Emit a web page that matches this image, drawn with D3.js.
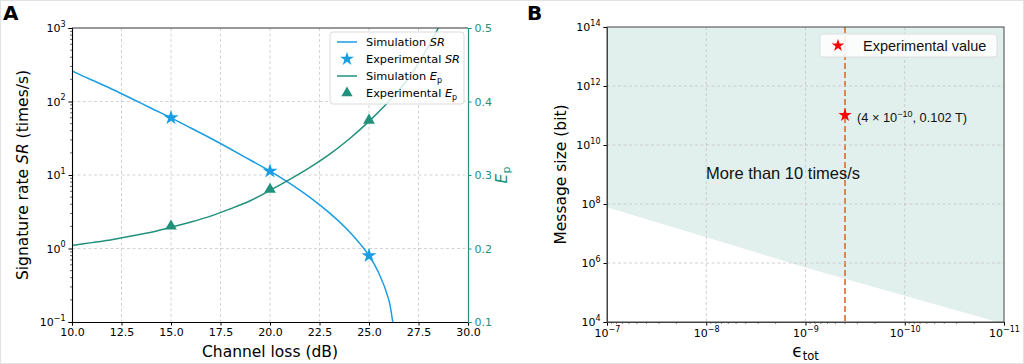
<!DOCTYPE html>
<html><head><meta charset="utf-8">
<script src="https://cdn.jsdelivr.net/npm/d3@7"></script>
<style>body{margin:0;background:#fff} svg{display:block}</style>
</head><body><svg id="c" width="1024" height="364"></svg>
<script>
// ---------- Panel A data ----------
const srLoss = [10, 11, 12, 13, 14, 15, 16, 17, 18, 19, 20, 21, 22, 23, 24, 25, 25.5, 26, 26.2, 26.3];
const srSim  = [260, 196, 148, 110, 81, 60, 43.6, 31.6, 22.6, 16.0, 11.3, 7.7, 5.0, 3.05, 1.7, 0.80, 0.46, 0.2, 0.1, 0.07];
const epLoss = [10, 11, 12, 13, 14, 15, 16, 17, 18, 19, 20, 21, 22, 23, 24, 25, 26, 26.5, 27, 27.5, 28, 28.5];
const epSim  = [0.204, 0.208, 0.212, 0.217, 0.222, 0.229, 0.236, 0.244, 0.254, 0.265, 0.279, 0.294, 0.31, 0.328, 0.349, 0.373, 0.40, 0.415, 0.432, 0.452, 0.475, 0.50];
const expLoss = [15, 20, 25];
const srExp = [60, 11.3, 0.8];
const epExp = [0.229, 0.279, 0.373];
const lossTicks = [10, 12.5, 15, 17.5, 20, 22.5, 25, 27.5, 30];
const srTicks = [-1, 0, 1, 2, 3];
const epTicks = [0.1, 0.2, 0.3, 0.4, 0.5];

// ---------- Panel B data ----------
const epsBoundary = [1e-7, 1e-8, 1e-9, 1e-10, 1e-11];
const msgBoundary = [7.76e7, 7.41e6, 7.08e5, 7.76e4, 8.7e3];
const epsExp = [4e-10];
const msgExp = [1.02e11];
const epsTicks = [-7, -8, -9, -10, -11];
const msgTicks = [4, 6, 8, 10, 12, 14];

const BLUE = "#1a9ee3", TEAL = "#21917c", SHADE = "#e1f0ed", ORANGE = "#e2703a";
const svg = d3.select("#c");
const FONT = "DejaVu Sans, sans-serif";
const TICK = 11;
svg.append("rect").attr("x",0.5).attr("y",0.5).attr("width",1023).attr("height",363).attr("fill","#fff").attr("stroke","#e2e2e2");

function sup(sel, expOf, size) {
  sel.each(function(d){
    const t = d3.select(this); t.text(null);
    t.append("tspan").text("10");
    t.append("tspan").attr("dy", -5.5).attr("font-size", size || 8).text(String(expOf(d)).replace("-", "\u2212"));
  });
}

// ================= Panel A =================
const A = {l: 72, r: 468, t: 28, b: 322};
const x = d3.scaleLinear().domain([10, 30]).range([A.l, A.r]);
const y = d3.scaleLog().domain([0.1, 1000]).range([A.b, A.t]);
const y2 = d3.scaleLinear().domain([0.1, 0.5]).range([A.b, A.t]);
const gA = svg.append("g");

const grid = gA.append("g").attr("stroke", "#c8c8c8").attr("stroke-width", 0.8).attr("stroke-dasharray", "3,2.5");
lossTicks.slice(1, -1).forEach(v => grid.append("line").attr("x1", x(v)).attr("x2", x(v)).attr("y1", A.t).attr("y2", A.b));
srTicks.slice(1, -1).forEach(v => grid.append("line").attr("x1", A.l).attr("x2", A.r).attr("y1", y(Math.pow(10, v))).attr("y2", y(Math.pow(10, v))));

svg.append("clipPath").attr("id", "clipA").append("rect").attr("x", A.l).attr("y", A.t).attr("width", A.r - A.l).attr("height", A.b - A.t);
const plotA = gA.append("g").attr("clip-path", "url(#clipA)");
const lineSR = d3.line().x((d, i) => x(srLoss[i])).y(d => y(d)).curve(d3.curveCatmullRom);
const lineEP = d3.line().x((d, i) => x(epLoss[i])).y(d => y2(d)).curve(d3.curveCatmullRom);
plotA.append("path").attr("d", lineSR(srSim)).attr("fill", "none").attr("stroke", BLUE).attr("stroke-width", 1.5);
plotA.append("path").attr("d", lineEP(epSim)).attr("fill", "none").attr("stroke", TEAL).attr("stroke-width", 1.5);
const star = d3.symbol().type(d3.symbolStar);
const tri = d3.symbol().type(d3.symbolTriangle);
plotA.selectAll(".sexp").data(srExp).join("path").attr("d", star.size(70)())
  .attr("transform", (d, i) => `translate(${x(expLoss[i])},${y(d)})`).attr("fill", BLUE);
plotA.selectAll(".eexp").data(epExp).join("path").attr("d", tri.size(60)())
  .attr("transform", (d, i) => `translate(${x(expLoss[i])},${y2(d) - 1})`).attr("fill", TEAL);

const axB = gA.append("g").attr("transform", `translate(0,${A.b})`)
  .call(d3.axisBottom(x).tickValues(lossTicks).tickFormat(d3.format(".1f")).tickSize(3.5).tickPadding(3));
const axL = gA.append("g").attr("transform", `translate(${A.l},0)`)
  .call(d3.axisLeft(y).tickValues(srTicks.map(v => Math.pow(10, v))).tickSize(3.5).tickPadding(3));
sup(axL.selectAll(".tick text"), d => Math.round(Math.log10(d)));
const minorL = [];
for (let k = -1; k < 3; k++) for (let m = 2; m <= 9; m++) minorL.push(m * Math.pow(10, k));
axL.selectAll(".minor").data(minorL).join("line").attr("x1", 0).attr("x2", -2).attr("y1", d => y(d)).attr("y2", d => y(d)).attr("stroke", "#000").attr("stroke-width", 0.6);
const axR = gA.append("g").attr("transform", `translate(${A.r},0)`)
  .call(d3.axisRight(y2).tickValues(epTicks).tickFormat(d3.format(".1f")).tickSize(3.5).tickPadding(3));
axR.select(".domain").attr("stroke", TEAL).attr("stroke-width", 1.2);
axR.selectAll(".tick line").attr("stroke", TEAL);
axR.selectAll(".tick text").attr("fill", TEAL);
[axB, axL, axR].forEach(a => a.attr("font-family", FONT).attr("font-size", TICK));
[axB, axL].forEach(a => a.select(".domain").attr("stroke-width", 1.1));
gA.append("line").attr("x1", A.l).attr("x2", A.r).attr("y1", A.t).attr("y2", A.t).attr("stroke", "#333").attr("stroke-width", 1.1);

gA.append("text").attr("x", (A.l + A.r) / 2).attr("y", 357).attr("text-anchor", "middle").attr("font-family", FONT).attr("font-size", 15.5).text("Channel loss (dB)");
const yl = gA.append("text").attr("transform", `translate(28,${(A.t + A.b) / 2}) rotate(-90)`).attr("text-anchor", "middle").attr("font-family", FONT).attr("font-size", 15.5);
yl.append("tspan").text("Signature rate ");
yl.append("tspan").attr("font-style", "italic").text("SR");
yl.append("tspan").text(" (times/s)");
const yr = gA.append("text").attr("transform", `translate(507,${(A.t + A.b) / 2}) rotate(-90)`).attr("text-anchor", "middle").attr("font-family", FONT).attr("font-size", 15.5).attr("fill", TEAL);
yr.append("tspan").attr("font-style", "italic").text("E");
yr.append("tspan").attr("dy", 3).attr("font-size", 11).text("p");

const lg = gA.append("g").attr("font-family", FONT).attr("font-size", 11.3);
lg.append("rect").attr("x", 330).attr("y", 32).attr("width", 134).attr("height", 72).attr("rx", 3).attr("fill", "#fff").attr("fill-opacity", 0.82).attr("stroke", "#d0d0d0").attr("stroke-width", 0.8);
const legItems = [
  {kind: "line", color: BLUE, pre: "Simulation ", it: "SR", sub: null},
  {kind: "star", color: BLUE, pre: "Experimental ", it: "SR", sub: null},
  {kind: "line", color: TEAL, pre: "Simulation ", it: "E", sub: "p"},
  {kind: "tri", color: TEAL, pre: "Experimental ", it: "E", sub: "p"}
];
const rowsY = [42, 59, 76, 93];
legItems.forEach((it, i) => {
  const cy = rowsY[i];
  if (it.kind === "line") lg.append("line").attr("x1", 337).attr("x2", 357).attr("y1", cy).attr("y2", cy).attr("stroke", it.color).attr("stroke-width", 1.5);
  else lg.append("path").attr("d", (it.kind === "star" ? star.size(60) : tri.size(55))()).attr("transform", `translate(347,${cy})`).attr("fill", it.color);
  const t = lg.append("text").attr("x", 366).attr("y", cy + 4);
  t.append("tspan").text(it.pre);
  t.append("tspan").attr("font-style", "italic").text(it.it);
  if (it.sub) t.append("tspan").attr("dy", 2.5).attr("font-size", 8).text(it.sub);
});

svg.append("text").attr("x", 3).attr("y", 20).attr("font-family", FONT).attr("font-weight", "bold").attr("font-size", 20).text("A");

// ================= Panel B =================
const B = {l: 607, r: 1004, t: 27, b: 322};
const xb = d3.scaleLog().domain([1e-7, 1e-11]).range([B.l, B.r]);
const yb = d3.scaleLog().domain([1e4, 1e14]).range([B.b, B.t]);
const gB = svg.append("g");
svg.append("clipPath").attr("id", "clipB").append("rect").attr("x", B.l).attr("y", B.t).attr("width", B.r - B.l).attr("height", B.b - B.t);
const plotB = gB.append("g").attr("clip-path", "url(#clipB)");
const area = d3.area().x((d, i) => xb(epsBoundary[i])).y0(B.t).y1(d => yb(d));
plotB.append("path").attr("d", area(msgBoundary)).attr("fill", SHADE);

const gridB = gB.append("g").attr("stroke", "#c4c4c4").attr("stroke-width", 0.8).attr("stroke-dasharray", "3,2.5");
epsTicks.slice(1, -1).forEach(v => gridB.append("line").attr("x1", xb(Math.pow(10, v))).attr("x2", xb(Math.pow(10, v))).attr("y1", B.t).attr("y2", B.b));
msgTicks.slice(1, -1).forEach(v => gridB.append("line").attr("x1", B.l).attr("x2", B.r).attr("y1", yb(Math.pow(10, v))).attr("y2", yb(Math.pow(10, v))));

plotB.append("line").attr("x1", xb(epsExp[0])).attr("x2", xb(epsExp[0])).attr("y1", B.t).attr("y2", B.b)
  .attr("stroke", ORANGE).attr("stroke-width", 1.7).attr("stroke-dasharray", "6,3");
plotB.selectAll(".rs").data(msgExp).join("path").attr("d", star.size(55)())
  .attr("transform", (d, i) => `translate(${xb(epsExp[i])},${yb(d)})`).attr("fill", "#f00");

const LIB = "Liberation Sans, Arial, sans-serif";
gB.append("text").attr("x", 706).attr("y", 179).attr("font-family", LIB).attr("font-size", 16.5).attr("fill", "#111").text("More than 10 times/s");
const ann = gB.append("text").attr("x", 857).attr("y", 122).attr("font-family", LIB).attr("font-size", 12.8).attr("fill", "#111");
ann.append("tspan").text("(4 \u00d7 10");
ann.append("tspan").attr("dy", -5).attr("font-size", 9).text("\u221210");
ann.append("tspan").attr("dy", 5).text(", 0.102 T)");

const axBB = gB.append("g").attr("transform", `translate(0,${B.b})`)
  .call(d3.axisBottom(xb).tickValues(epsTicks.map(v => Math.pow(10, v))).tickSize(3.5).tickPadding(4));
sup(axBB.selectAll(".tick text"), d => Math.round(Math.log10(d)));
const minorB = [];
for (let k = -11; k < -7; k++) for (let m = 2; m <= 9; m++) minorB.push(m * Math.pow(10, k));
axBB.selectAll(".minor").data(minorB).join("line").attr("x1", d => xb(d)).attr("x2", d => xb(d)).attr("y1", 0).attr("y2", 2).attr("stroke", "#333").attr("stroke-width", 0.6);
const axLB = gB.append("g").attr("transform", `translate(${B.l},0)`)
  .call(d3.axisLeft(yb).tickValues(msgTicks.map(v => Math.pow(10, v))).tickSize(3.5).tickPadding(3));
sup(axLB.selectAll(".tick text"), d => Math.round(Math.log10(d)));
[axBB, axLB].forEach(a => { a.attr("font-family", FONT).attr("font-size", TICK); a.select(".domain").attr("stroke", "#444"); });
gB.append("rect").attr("x", B.l).attr("y", B.t).attr("width", B.r - B.l).attr("height", B.b - B.t).attr("fill", "none").attr("stroke", "#444").attr("stroke-width", 1);

const xlb = gB.append("text").attr("x", (B.l + B.r) / 2).attr("y", 357).attr("text-anchor", "middle").attr("font-family", FONT).attr("font-size", 17);
xlb.append("tspan").text("\u03f5");
xlb.append("tspan").attr("dy", 3).attr("font-size", 11.5).text("tot");
gB.append("text").attr("transform", `translate(566,${(B.t + B.b) / 2}) rotate(-90)`).attr("text-anchor", "middle").attr("font-family", FONT).attr("font-size", 15.5).text("Message size (bit)");

const lgB = gB.append("g");
lgB.append("rect").attr("x", 820).attr("y", 34).attr("width", 177).attr("height", 23).attr("rx", 3).attr("fill", "#fff").attr("fill-opacity", 0.85).attr("stroke", "#d8d8d8").attr("stroke-width", 0.8);
lgB.append("path").attr("d", star.size(50)()).attr("transform", "translate(838,45.5)").attr("fill", "#f00");
lgB.append("text").attr("x", 863).attr("y", 50.5).attr("font-family", LIB).attr("font-size", 14.5).attr("fill", "#111").text("Experimental value");

svg.append("text").attr("x", 527).attr("y", 20).attr("font-family", FONT).attr("font-weight", "bold").attr("font-size", 20).text("B");
</script></body></html>
